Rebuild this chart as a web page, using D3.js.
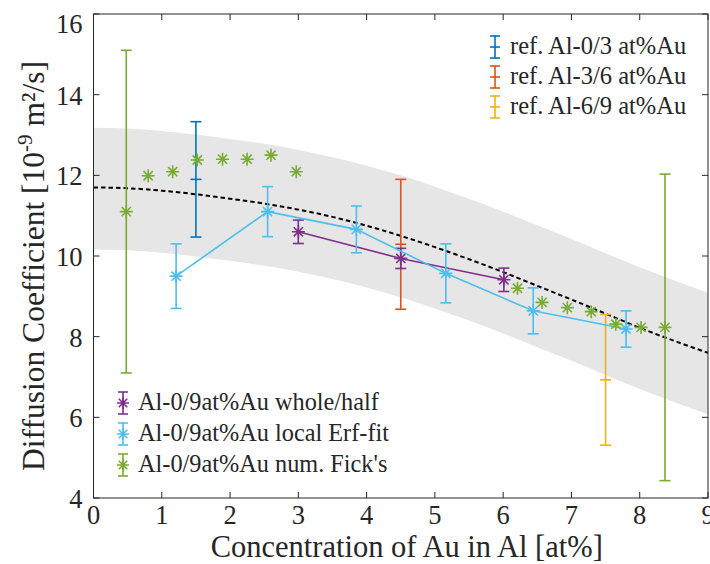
<!DOCTYPE html>
<html><head><meta charset="utf-8">
<script src="https://cdn.jsdelivr.net/npm/d3@7"></script>
<style>
html,body{margin:0;padding:0;background:#fff;}
svg{display:block;font-family:"Liberation Serif","Times New Roman",serif;}
</style></head>
<body><svg id="chart" width="710" height="564"></svg>
<script>
// ---- data ----
const xTicks = [0,1,2,3,4,5,6,7,8,9];
const yTicks = [4,6,8,10,12,14,16];

const fitX = [0,0.5,1,1.5,2,2.5,3,3.5,4,4.5,5,5.5,6,6.5,7,7.5,8,8.5,9];
const fitY = [11.70,11.68,11.62,11.53,11.42,11.30,11.15,10.97,10.75,10.50,10.22,9.92,9.60,9.26,8.92,8.57,8.22,7.90,7.60];
const bandUpper = [13.18,13.16,13.10,13.01,12.90,12.78,12.63,12.45,12.24,12.00,11.72,11.42,11.10,10.76,10.42,10.07,9.72,9.40,9.09];
const bandLower = [10.16,10.14,10.08,9.99,9.88,9.76,9.61,9.43,9.22,8.98,8.70,8.40,8.08,7.74,7.40,7.05,6.70,6.38,6.07];

const refNames = ["ref. Al-0/3 at%Au","ref. Al-3/6 at%Au","ref. Al-6/9 at%Au"];
const refX = [1.5, 4.5, 7.5];
const refY = [11.90, 10.29, 6.93];
const refErr = [1.43, 1.61, 1.62];

const wholeX = [3.00, 4.50, 6.01];
const wholeY = [10.60, 9.94, 9.41];
const wholeErr = [0.29, 0.25, 0.29];

const erfX = [1.21, 2.55, 3.85, 5.16, 6.44, 7.80];
const erfY = [9.50, 11.10, 10.66, 9.57, 8.64, 8.19];
const erfErr = [0.80, 0.62, 0.58, 0.73, 0.57, 0.45];

const fickX = [0.48, 0.80, 1.16, 1.52, 1.89, 2.25, 2.60, 2.97, 6.21, 6.57, 6.94, 7.29, 7.65, 8.02, 8.37];
const fickY = [11.10, 11.99, 12.09, 12.38, 12.40, 12.40, 12.50, 12.09, 9.20, 8.85, 8.72, 8.62, 8.31, 8.23, 8.23];
const fickErr = [4.0, null, null, null, null, null, null, null, null, null, null, null, null, null, 3.8];

const seriesNames = ["Al-0/9at%Au whole/half","Al-0/9at%Au local Erf-fit","Al-0/9at%Au num. Fick's"];

// ---- colours ----
const refColors = ["#0072BD","#D95319","#EDB120"];
const cWhole = "#7E2F8E", cErf = "#4DBEEE", cFick = "#77AC30";
const axisColor = "#262626";

// ---- layout ----
const L = 93.5, R = 708, T = 14, B = 498;
const svg = d3.select("#chart");
const x = d3.scaleLinear().domain([0,9]).range([L,R]);
const y = d3.scaleLinear().domain([4,16]).range([B,T]);

const g = svg.append("g");

// band
const bandData = fitX.map((v,i)=>({x:v, hi:bandUpper[i], lo:bandLower[i]}));
g.append("path").datum(bandData)
  .attr("d", d3.area().x(d=>x(d.x)).y0(d=>y(d.lo)).y1(d=>y(d.hi)).curve(d3.curveMonotoneX))
  .attr("fill","#e6e6e6");

// dashed fit
g.append("path").datum(fitX.map((v,i)=>[v,fitY[i]]))
  .attr("d", d3.line().x(d=>x(d[0])).y(d=>y(d[1])).curve(d3.curveMonotoneX))
  .attr("fill","none").attr("stroke","#000").attr("stroke-width",2).attr("stroke-dasharray","4.5,3");

const capW = 5.5;
function errBar(sel, cx, cy, e, color){
  const gg = sel.append("g").attr("stroke",color).attr("stroke-width",1.6).attr("fill","none");
  const px = x(cx), top = y(cy+e), bot = y(cy-e);
  gg.append("line").attr("x1",px).attr("x2",px).attr("y1",top).attr("y2",bot);
  gg.append("line").attr("x1",px-capW).attr("x2",px+capW).attr("y1",top).attr("y2",top);
  gg.append("line").attr("x1",px-capW).attr("x2",px+capW).attr("y1",bot).attr("y2",bot);
}
function asterisk(sel, px, py, color, r){
  r = r || 6.5;
  const d = r*0.7071;
  sel.append("path")
    .attr("d",`M${px-r},${py}L${px+r},${py}M${px},${py-r}L${px},${py+r}M${px-d},${py-d}L${px+d},${py+d}M${px-d},${py+d}L${px+d},${py-d}`)
    .attr("stroke",color).attr("stroke-width",1.6).attr("fill","none");
}

// reference error bars
refX.forEach((v,i)=>{
  errBar(g, v, refY[i], refErr[i], refColors[i]);
  g.append("line").attr("x1",x(v)-capW).attr("x2",x(v)+capW).attr("y1",y(refY[i])).attr("y2",y(refY[i]))
    .attr("stroke",refColors[i]).attr("stroke-width",1.6);
});

// whole/half
g.append("path").datum(wholeX.map((v,i)=>[v,wholeY[i]]))
  .attr("d", d3.line().x(d=>x(d[0])).y(d=>y(d[1])))
  .attr("fill","none").attr("stroke",cWhole).attr("stroke-width",1.6);
wholeX.forEach((v,i)=>{ errBar(g, v, wholeY[i], wholeErr[i], cWhole); asterisk(g, x(v), y(wholeY[i]), cWhole); });

// erf
g.append("path").datum(erfX.map((v,i)=>[v,erfY[i]]))
  .attr("d", d3.line().x(d=>x(d[0])).y(d=>y(d[1])))
  .attr("fill","none").attr("stroke",cErf).attr("stroke-width",1.6);
erfX.forEach((v,i)=>{ errBar(g, v, erfY[i], erfErr[i], cErf); asterisk(g, x(v), y(erfY[i]), cErf); });

// fick
fickX.forEach((v,i)=>{
  if (fickErr[i] != null) errBar(g, v, fickY[i], fickErr[i], cFick);
  asterisk(g, x(v), y(fickY[i]), cFick);
});

// ---- axes ----
const ax = svg.append("g").attr("stroke",axisColor).attr("stroke-width",1).attr("fill","none");
ax.append("rect").attr("x",L).attr("y",T).attr("width",R-L).attr("height",B-T);
const tl = 6;
xTicks.forEach(t=>{
  ax.append("line").attr("x1",x(t)).attr("x2",x(t)).attr("y1",B).attr("y2",B-tl);
  ax.append("line").attr("x1",x(t)).attr("x2",x(t)).attr("y1",T).attr("y2",T+tl);
});
yTicks.forEach(t=>{
  ax.append("line").attr("x1",L).attr("x2",L+tl).attr("y1",y(t)).attr("y2",y(t));
  ax.append("line").attr("x1",R).attr("x2",R-tl).attr("y1",y(t)).attr("y2",y(t));
});
const fs = 26.5;
svg.append("g").selectAll("text").data(xTicks).join("text")
  .attr("x",d=>x(d)).attr("y",524).attr("text-anchor","middle")
  .attr("font-size",fs).attr("fill",axisColor).text(d=>d);
svg.append("g").selectAll("text").data(yTicks).join("text")
  .attr("x",L-11).attr("y",d=>Math.max(y(d)+10, 33)).attr("text-anchor","end")
  .attr("font-size",fs).attr("fill",axisColor).text(d=>d);

svg.append("text").attr("x",(L+R)/2+6).attr("y",557).attr("text-anchor","middle")
  .attr("font-size",30.5).attr("fill",axisColor).text("Concentration of Au in Al [at%]");

const yl = svg.append("text").attr("transform",`translate(44,${(T+B)/2+10}) rotate(-90)`)
  .attr("text-anchor","middle").attr("font-size",31.5).attr("fill",axisColor);
yl.append("tspan").text("Diffusion Coefficient [10");
yl.append("tspan").attr("font-size",21).attr("dy",-12).text("-9");
yl.append("tspan").attr("dy",12).text(" m\u00B2/s]");

// ---- legends ----
function legendIcon(px, py, color, mark){
  const gg = svg.append("g").attr("stroke",color).attr("stroke-width",1.6).attr("fill","none");
  const h = 11, c = 5;
  gg.append("line").attr("x1",px).attr("x2",px).attr("y1",py-h).attr("y2",py+h);
  gg.append("line").attr("x1",px-c).attr("x2",px+c).attr("y1",py-h).attr("y2",py-h);
  gg.append("line").attr("x1",px-c).attr("x2",px+c).attr("y1",py+h).attr("y2",py+h);
  if (mark === "tick") gg.append("line").attr("x1",px-c).attr("x2",px+c).attr("y1",py).attr("y2",py);
  else asterisk(svg, px, py, color, 6);
}
const lfs = 24.5;
refNames.forEach((n,i)=>{
  const py = 47 + i*30;
  legendIcon(495, py, refColors[i], "tick");
  svg.append("text").attr("x",510).attr("y",py+7).attr("font-size",lfs).attr("fill",axisColor).text(n);
});
const sc = [cWhole, cErf, cFick];
seriesNames.forEach((n,i)=>{
  const py = 403 + i*31;
  legendIcon(123, py, sc[i], "star");
  svg.append("text").attr("x",138).attr("y",py+7).attr("font-size",24.3).attr("fill",axisColor).text(n);
});
</script></body></html>
